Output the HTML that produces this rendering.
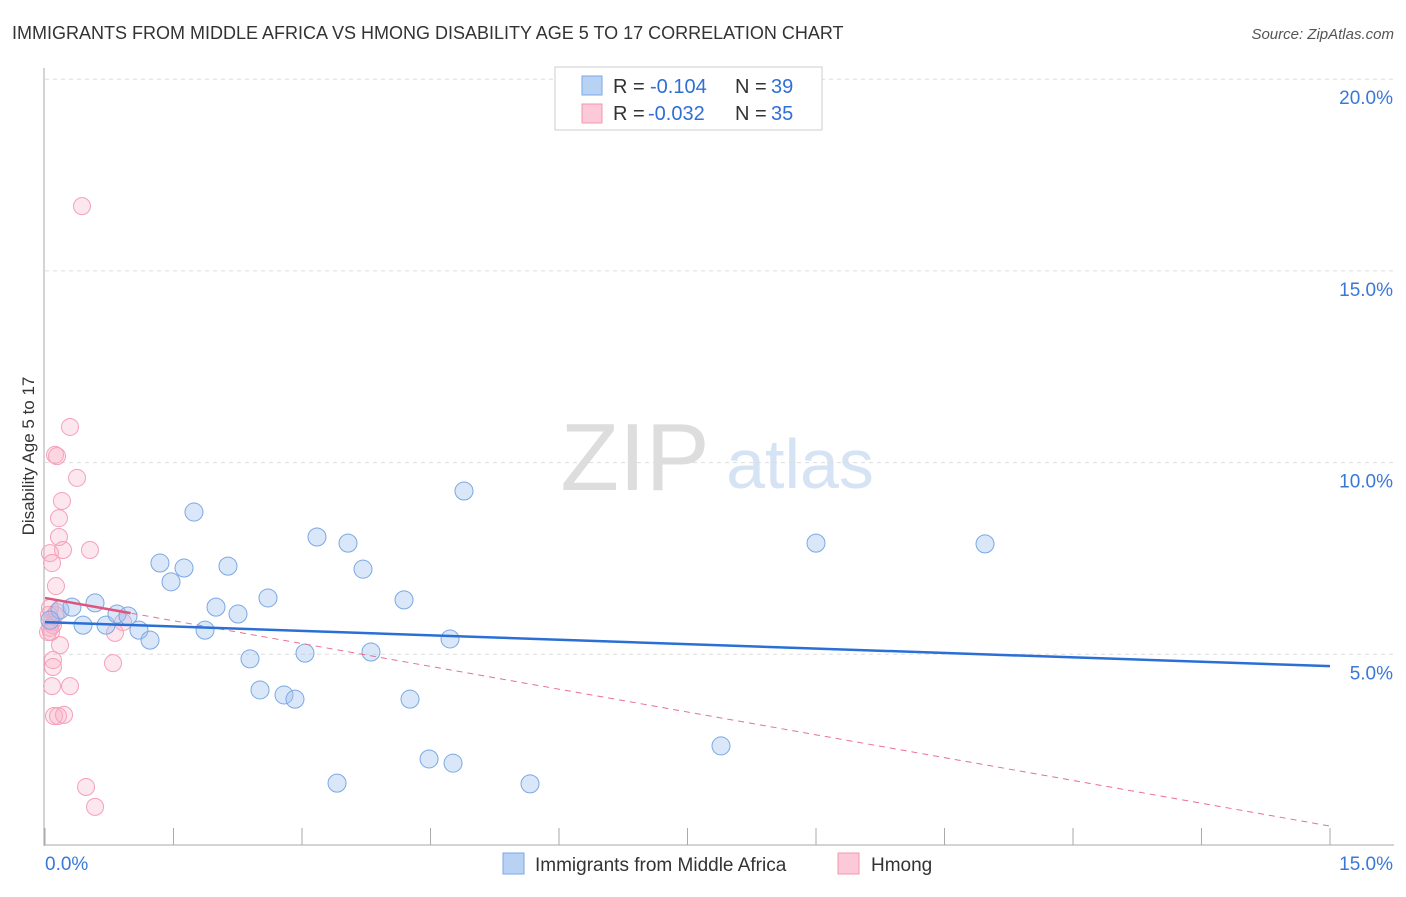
<!DOCTYPE html>
<html><head><meta charset="utf-8"><style>
body{margin:0;background:#fff;font-family:"Liberation Sans",sans-serif;}
svg text{font-family:"Liberation Sans",sans-serif;}
</style></head><body>
<svg width="1406" height="892" viewBox="0 0 1406 892">
<text x="12" y="39" font-size="18" fill="#333">IMMIGRANTS FROM MIDDLE AFRICA VS HMONG DISABILITY AGE 5 TO 17 CORRELATION CHART</text>
<text x="1394" y="39" font-size="15" fill="#555" font-style="italic" text-anchor="end">Source: ZipAtlas.com</text>
<g><text x="635" y="490" font-size="96" fill="#ddd" font-family="Liberation Serif,serif" text-anchor="middle">ZIP</text><text x="800" y="488" font-size="70" fill="#d6e3f5" text-anchor="middle">atlas</text></g>
<g id="grid"></g><g id="axes"></g><g id="marks"></g>
<text transform="translate(34,456) rotate(-90)" font-size="17" fill="#333" text-anchor="middle">Disability Age 5 to 17</text>
<g>
<rect x="555" y="67" width="267" height="63" fill="#fff" stroke="#ccc"/>
<rect x="582" y="76" width="20" height="19" fill="#b8d2f4" stroke="#7aa8e6"/>
<rect x="582" y="104" width="20" height="19" fill="#fbc9d7" stroke="#f197b2"/>
<text x="613" y="93" font-size="20" fill="#333">R =</text>
<text x="650" y="93" font-size="20" fill="#2f6fd6">-0.104</text>
<text x="735" y="93" font-size="20" fill="#333">N =</text>
<text x="771" y="93" font-size="20" fill="#2f6fd6">39</text>
<text x="613" y="120" font-size="20" fill="#333">R =</text>
<text x="648" y="120" font-size="20" fill="#2f6fd6">-0.032</text>
<text x="735" y="120" font-size="20" fill="#333">N =</text>
<text x="771" y="120" font-size="20" fill="#2f6fd6">35</text>
</g>
<g>
<rect x="503" y="853" width="21" height="21" fill="#b8d2f4" stroke="#7aa8e6"/>
<text x="535" y="871" font-size="19" fill="#333">Immigrants from Middle Africa</text>
<rect x="838" y="853" width="21" height="21" fill="#fbc9d7" stroke="#f197b2"/>
<text x="871" y="871" font-size="19" fill="#333">Hmong</text>
</g>
</svg>
<script>
const blueX=[0.175,0.315,0.444,0.584,0.712,0.840,0.969,1.097,1.226,1.342,1.471,1.623,1.739,1.868,1.996,2.136,2.253,2.393,2.510,2.603,2.790,2.918,3.035,3.175,3.409,3.537,3.712,3.805,4.191,4.261,4.483,4.728,4.763,4.891,5.662,7.891,9.000,10.973,0.058];
const blueY=[6.16,6.23,5.76,6.34,5.76,6.05,6.00,5.63,5.37,7.38,6.89,7.25,8.71,5.63,6.23,7.30,6.05,4.88,4.07,6.47,3.94,3.83,5.03,8.06,1.64,7.90,7.22,5.06,6.42,3.83,2.27,5.40,2.16,9.26,1.62,2.61,7.90,7.88,5.89];
const pinkX=[0.432,0.292,0.117,0.140,0.374,0.198,0.163,0.163,0.210,0.525,0.058,0.082,0.128,0.058,0.117,0.082,0.058,0.175,0.035,0.911,0.817,0.093,0.093,0.794,0.082,0.292,0.105,0.152,0.222,0.479,0.584,0.047,0.093,0.140,0.070];
const pinkY=[16.69,10.93,10.20,10.17,9.60,9.00,8.55,8.06,7.72,7.72,7.64,7.38,6.78,6.21,6.03,5.84,5.69,5.24,5.58,5.84,5.56,4.85,4.67,4.77,4.17,4.17,3.39,3.39,3.42,1.54,1.02,6.03,5.76,6.10,5.58];
const blueTrend=[5.84,4.69];
const pinkTrend=[6.47,0.52];
const xTicks=[0,1.5,3,4.5,6,7.5,9,10.5,12,13.5,15];
const yTicks=[5,10,15,20];
const yLabels=["5.0%","10.0%","15.0%","20.0%"];
const NS="http://www.w3.org/2000/svg";
const X0=45,X1=1330,XMAX=15,YB=846,YPX=38.34;
const sx=v=>X0+v/XMAX*(X1-X0), sy=v=>YB-v*YPX;
function mk(p,t,a){const e=document.createElementNS(NS,t);for(const k in a)e.setAttribute(k,a[k]);p.appendChild(e);return e;}
const grid=document.getElementById('grid'),axes=document.getElementById('axes'),marks=document.getElementById('marks');
yTicks.forEach((v,i)=>{
 const l=mk(grid,'line',{x1:45,x2:1394,y1:sy(v),y2:sy(v),stroke:'#ddd','stroke-dasharray':'4,4'});
 
 
 const t=mk(axes,'text',{x:1393,y:sy(v)+25,'font-size':19,fill:'#3a78d8','text-anchor':'end'});t.textContent=yLabels[i];
 
 
});
const ax=mk(axes,'line',{x1:44,x2:44,y1:68,y2:846,stroke:'#aaa'});


const bx=mk(axes,'line',{x1:44,x2:1394,y1:845,y2:845,stroke:'#aaa'});


xTicks.forEach(v=>{const t=mk(axes,'line',{x1:sx(v),x2:sx(v),y1:828,y2:845,stroke:'#aaa'});
 
 });
const xl0=mk(axes,'text',{x:45,y:870,'font-size':19,fill:'#3a78d8'});xl0.textContent=xTicks[0].toFixed(1)+'%';


const xl1=mk(axes,'text',{x:1393,y:870,'font-size':19,fill:'#3a78d8','text-anchor':'end'});xl1.textContent=xTicks[xTicks.length-1].toFixed(1)+'%';


pinkX.forEach((x,i)=>{const c=mk(marks,'circle',{cx:sx(x),cy:sy(pinkY[i]),r:8.5,fill:'rgba(248,175,198,0.3)',stroke:'#f4a0b8','stroke-width':1});
 
 });
blueX.forEach((x,i)=>{const c=mk(marks,'circle',{cx:sx(x),cy:sy(blueY[i]),r:9,fill:'rgba(160,196,240,0.4)',stroke:'#7aa8e4','stroke-width':1});
 
 });
const pd=mk(marks,'line',{x1:sx(0),y1:sy(pinkTrend[0]),x2:sx(15),y2:sy(pinkTrend[1]),stroke:'#e87095','stroke-width':1,'stroke-dasharray':'6,5'});


const f=1/15;
const ps=mk(marks,'line',{x1:sx(0),y1:sy(pinkTrend[0]),x2:sx(1.0),y2:sy(pinkTrend[0]+(pinkTrend[1]-pinkTrend[0])*f),stroke:'#e0557f','stroke-width':2.5});


const bt=mk(marks,'line',{x1:sx(0),y1:sy(blueTrend[0]),x2:sx(15),y2:sy(blueTrend[1]),stroke:'#2a6fd6','stroke-width':2.5});


</script>
</body></html>
